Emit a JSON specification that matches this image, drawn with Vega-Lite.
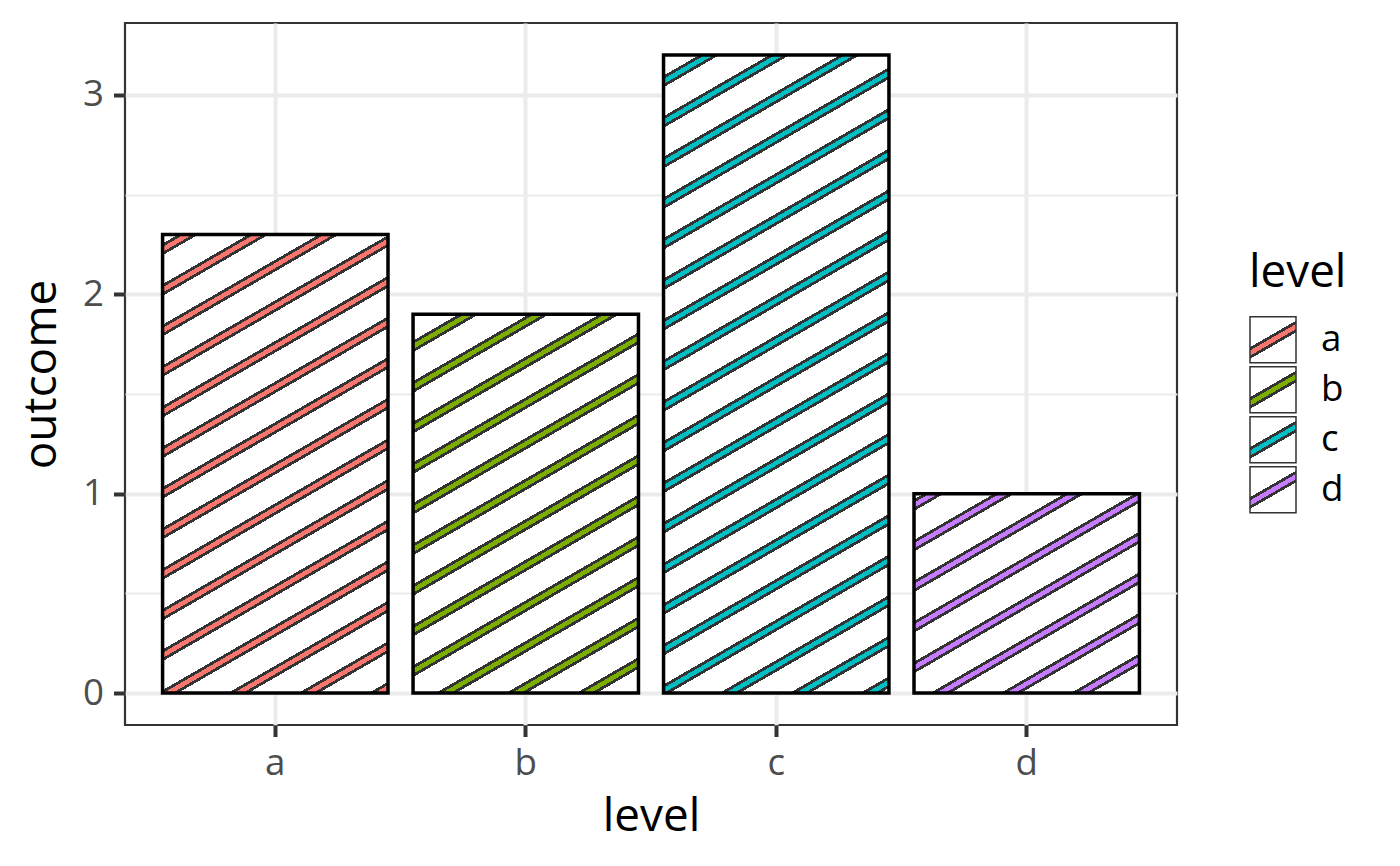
{
  "$schema": "https://vega.github.io/schema/vega-lite/v6.json",
  "width": 1052,
  "height": 702,
  "autosize": {"type": "none"},
  "padding": {"left": 125, "top": 23, "right": 223, "bottom": 141},
  "background": "white",
  "data": {
    "values": [
      {"level": "a", "outcome": 2.3},
      {"level": "b", "outcome": 1.9},
      {"level": "c", "outcome": 3.2},
      {"level": "d", "outcome": 1.0}
    ]
  },
  "encoding": {
    "x": {
      "field": "level",
      "type": "nominal",
      "scale": {"paddingInner": 0.1, "paddingOuter": 0.15},
      "axis": {
        "title": "level",
        "bandPosition": 0.5,
        "domain": false,
        "grid": true,
        "gridColor": "#EBEBEB",
        "gridWidth": 4,
        "tickColor": "#333333",
        "tickWidth": 4,
        "tickSize": 11.5,
        "labelAngle": 0,
        "labelFontSize": 36.7,
        "labelColor": "#4D4D4D",
        "labelPadding": 9,
        "titleFontSize": 45.8,
        "titleFontWeight": "normal",
        "titleColor": "black",
        "titlePadding": 12
      }
    },
    "y": {
      "field": "outcome",
      "type": "quantitative",
      "scale": {"domain": [-0.16, 3.36], "nice": false, "zero": false},
      "axis": {
        "title": "outcome",
        "values": [0, 0.5, 1, 1.5, 2, 2.5, 3],
        "domain": false,
        "grid": true,
        "gridColor": "#EBEBEB",
        "gridWidth": {"condition": {"test": "datum.value % 1 === 0", "value": 4}, "value": 2},
        "tickColor": "#333333",
        "tickWidth": 4,
        "tickSize": 11.5,
        "tickOpacity": {"condition": {"test": "datum.value % 1 === 0", "value": 1}, "value": 0},
        "labelExpr": "datum.value % 1 === 0 ? '' + datum.value : ''",
        "labelFontSize": 36.7,
        "labelColor": "#4D4D4D",
        "labelPadding": 10,
        "titleFontSize": 45.8,
        "titleFontWeight": "normal",
        "titleColor": "black",
        "titlePadding": 17
      }
    }
  },
  "layer": [
    {
      "mark": {"type": "bar"},
      "encoding": {
        "fill": {
          "field": "level",
          "type": "nominal",
          "scale": {
            "range": [
              {"expr": "{gradient: 'linear', x1: 0, y1: 0, x2: 0.683, y2: 1.183, stops: [{offset: 0, color: '#fff'}, {offset: 0.4195, color: '#fff'}, {offset: 0.4195, color: '#333'}, {offset: 0.4642, color: '#333'}, {offset: 0.4642, color: '#F8766D'}, {offset: 0.5358, color: '#F8766D'}, {offset: 0.5358, color: '#333'}, {offset: 0.5805, color: '#333'}, {offset: 0.5805, color: '#fff'}, {offset: 1, color: '#fff'}]}"},
              {"expr": "{gradient: 'linear', x1: 0, y1: 0, x2: 0.683, y2: 1.183, stops: [{offset: 0, color: '#fff'}, {offset: 0.4195, color: '#fff'}, {offset: 0.4195, color: '#333'}, {offset: 0.4642, color: '#333'}, {offset: 0.4642, color: '#7CAE00'}, {offset: 0.5358, color: '#7CAE00'}, {offset: 0.5358, color: '#333'}, {offset: 0.5805, color: '#333'}, {offset: 0.5805, color: '#fff'}, {offset: 1, color: '#fff'}]}"},
              {"expr": "{gradient: 'linear', x1: 0, y1: 0, x2: 0.683, y2: 1.183, stops: [{offset: 0, color: '#fff'}, {offset: 0.4195, color: '#fff'}, {offset: 0.4195, color: '#333'}, {offset: 0.4642, color: '#333'}, {offset: 0.4642, color: '#00BFC4'}, {offset: 0.5358, color: '#00BFC4'}, {offset: 0.5358, color: '#333'}, {offset: 0.5805, color: '#333'}, {offset: 0.5805, color: '#fff'}, {offset: 1, color: '#fff'}]}"},
              {"expr": "{gradient: 'linear', x1: 0, y1: 0, x2: 0.683, y2: 1.183, stops: [{offset: 0, color: '#fff'}, {offset: 0.4195, color: '#fff'}, {offset: 0.4195, color: '#333'}, {offset: 0.4642, color: '#333'}, {offset: 0.4642, color: '#C77CFF'}, {offset: 0.5358, color: '#C77CFF'}, {offset: 0.5358, color: '#333'}, {offset: 0.5805, color: '#333'}, {offset: 0.5805, color: '#fff'}, {offset: 1, color: '#fff'}]}"}
            ]
          },
          "legend": {
            "title": "level",
            "orient": "none",
            "legendX": 1124,
            "legendY": 228,
            "direction": "vertical",
            "padding": 0,
            "titlePadding": 19,
            "titleFontSize": 45.8,
            "titleFontWeight": "normal",
            "titleColor": "black",
            "labelFontSize": 36.7,
            "labelColor": "black",
            "labelOffset": 24,
            "symbolType": "square",
            "symbolSize": 2116,
            "symbolStrokeColor": "#333333",
            "symbolStrokeWidth": 1.5,
            "symbolOpacity": 1,
            "rowPadding": -7.3
          }
        }
      }
    },
    {
      "transform": [{"filter": "datum.level === 'a'"}],
      "mark": {
        "type": "bar",
        "stroke": "black",
        "strokeWidth": 3.5,
        "fill": {"gradient": "linear", "x1": -0.003028, "y1": -0.01067, "x2": 0.461876, "y2": 1.62764, "stops": [
          {"offset": 0, "color": "#fff"},
          {"offset": 0.0178, "color": "#fff"}, {"offset": 0.0178, "color": "#333"}, {"offset": 0.0218, "color": "#333"}, {"offset": 0.0218, "color": "#F8766D"}, {"offset": 0.0282, "color": "#F8766D"}, {"offset": 0.0282, "color": "#333"}, {"offset": 0.0322, "color": "#333"}, {"offset": 0.0322, "color": "#fff"},
          {"offset": 0.0678, "color": "#fff"}, {"offset": 0.0678, "color": "#333"}, {"offset": 0.0718, "color": "#333"}, {"offset": 0.0718, "color": "#F8766D"}, {"offset": 0.0782, "color": "#F8766D"}, {"offset": 0.0782, "color": "#333"}, {"offset": 0.0822, "color": "#333"}, {"offset": 0.0822, "color": "#fff"},
          {"offset": 0.1178, "color": "#fff"}, {"offset": 0.1178, "color": "#333"}, {"offset": 0.1218, "color": "#333"}, {"offset": 0.1218, "color": "#F8766D"}, {"offset": 0.1282, "color": "#F8766D"}, {"offset": 0.1282, "color": "#333"}, {"offset": 0.1322, "color": "#333"}, {"offset": 0.1322, "color": "#fff"},
          {"offset": 0.1678, "color": "#fff"}, {"offset": 0.1678, "color": "#333"}, {"offset": 0.1718, "color": "#333"}, {"offset": 0.1718, "color": "#F8766D"}, {"offset": 0.1782, "color": "#F8766D"}, {"offset": 0.1782, "color": "#333"}, {"offset": 0.1822, "color": "#333"}, {"offset": 0.1822, "color": "#fff"},
          {"offset": 0.2178, "color": "#fff"}, {"offset": 0.2178, "color": "#333"}, {"offset": 0.2218, "color": "#333"}, {"offset": 0.2218, "color": "#F8766D"}, {"offset": 0.2282, "color": "#F8766D"}, {"offset": 0.2282, "color": "#333"}, {"offset": 0.2322, "color": "#333"}, {"offset": 0.2322, "color": "#fff"},
          {"offset": 0.2678, "color": "#fff"}, {"offset": 0.2678, "color": "#333"}, {"offset": 0.2718, "color": "#333"}, {"offset": 0.2718, "color": "#F8766D"}, {"offset": 0.2782, "color": "#F8766D"}, {"offset": 0.2782, "color": "#333"}, {"offset": 0.2822, "color": "#333"}, {"offset": 0.2822, "color": "#fff"},
          {"offset": 0.3178, "color": "#fff"}, {"offset": 0.3178, "color": "#333"}, {"offset": 0.3218, "color": "#333"}, {"offset": 0.3218, "color": "#F8766D"}, {"offset": 0.3282, "color": "#F8766D"}, {"offset": 0.3282, "color": "#333"}, {"offset": 0.3322, "color": "#333"}, {"offset": 0.3322, "color": "#fff"},
          {"offset": 0.3678, "color": "#fff"}, {"offset": 0.3678, "color": "#333"}, {"offset": 0.3718, "color": "#333"}, {"offset": 0.3718, "color": "#F8766D"}, {"offset": 0.3782, "color": "#F8766D"}, {"offset": 0.3782, "color": "#333"}, {"offset": 0.3822, "color": "#333"}, {"offset": 0.3822, "color": "#fff"},
          {"offset": 0.4178, "color": "#fff"}, {"offset": 0.4178, "color": "#333"}, {"offset": 0.4218, "color": "#333"}, {"offset": 0.4218, "color": "#F8766D"}, {"offset": 0.4282, "color": "#F8766D"}, {"offset": 0.4282, "color": "#333"}, {"offset": 0.4322, "color": "#333"}, {"offset": 0.4322, "color": "#fff"},
          {"offset": 0.4678, "color": "#fff"}, {"offset": 0.4678, "color": "#333"}, {"offset": 0.4718, "color": "#333"}, {"offset": 0.4718, "color": "#F8766D"}, {"offset": 0.4782, "color": "#F8766D"}, {"offset": 0.4782, "color": "#333"}, {"offset": 0.4822, "color": "#333"}, {"offset": 0.4822, "color": "#fff"},
          {"offset": 0.5178, "color": "#fff"}, {"offset": 0.5178, "color": "#333"}, {"offset": 0.5218, "color": "#333"}, {"offset": 0.5218, "color": "#F8766D"}, {"offset": 0.5282, "color": "#F8766D"}, {"offset": 0.5282, "color": "#333"}, {"offset": 0.5322, "color": "#333"}, {"offset": 0.5322, "color": "#fff"},
          {"offset": 0.5678, "color": "#fff"}, {"offset": 0.5678, "color": "#333"}, {"offset": 0.5718, "color": "#333"}, {"offset": 0.5718, "color": "#F8766D"}, {"offset": 0.5782, "color": "#F8766D"}, {"offset": 0.5782, "color": "#333"}, {"offset": 0.5822, "color": "#333"}, {"offset": 0.5822, "color": "#fff"},
          {"offset": 0.6178, "color": "#fff"}, {"offset": 0.6178, "color": "#333"}, {"offset": 0.6218, "color": "#333"}, {"offset": 0.6218, "color": "#F8766D"}, {"offset": 0.6282, "color": "#F8766D"}, {"offset": 0.6282, "color": "#333"}, {"offset": 0.6322, "color": "#333"}, {"offset": 0.6322, "color": "#fff"},
          {"offset": 0.6678, "color": "#fff"}, {"offset": 0.6678, "color": "#333"}, {"offset": 0.6718, "color": "#333"}, {"offset": 0.6718, "color": "#F8766D"}, {"offset": 0.6782, "color": "#F8766D"}, {"offset": 0.6782, "color": "#333"}, {"offset": 0.6822, "color": "#333"}, {"offset": 0.6822, "color": "#fff"},
          {"offset": 0.7178, "color": "#fff"}, {"offset": 0.7178, "color": "#333"}, {"offset": 0.7218, "color": "#333"}, {"offset": 0.7218, "color": "#F8766D"}, {"offset": 0.7282, "color": "#F8766D"}, {"offset": 0.7282, "color": "#333"}, {"offset": 0.7322, "color": "#333"}, {"offset": 0.7322, "color": "#fff"},
          {"offset": 1, "color": "#fff"}
        ]}
      }
    },
    {
      "transform": [{"filter": "datum.level === 'b'"}],
      "mark": {
        "type": "bar",
        "stroke": "black",
        "strokeWidth": 3.5,
        "fill": {"gradient": "linear", "x1": -0.023165, "y1": -0.067433, "x2": 0.635256, "y2": 1.849258, "stops": [
          {"offset": 0, "color": "#fff"},
          {"offset": 0.0678, "color": "#fff"}, {"offset": 0.0678, "color": "#333"}, {"offset": 0.0718, "color": "#333"}, {"offset": 0.0718, "color": "#7CAE00"}, {"offset": 0.0782, "color": "#7CAE00"}, {"offset": 0.0782, "color": "#333"}, {"offset": 0.0822, "color": "#333"}, {"offset": 0.0822, "color": "#fff"},
          {"offset": 0.1178, "color": "#fff"}, {"offset": 0.1178, "color": "#333"}, {"offset": 0.1218, "color": "#333"}, {"offset": 0.1218, "color": "#7CAE00"}, {"offset": 0.1282, "color": "#7CAE00"}, {"offset": 0.1282, "color": "#333"}, {"offset": 0.1322, "color": "#333"}, {"offset": 0.1322, "color": "#fff"},
          {"offset": 0.1678, "color": "#fff"}, {"offset": 0.1678, "color": "#333"}, {"offset": 0.1718, "color": "#333"}, {"offset": 0.1718, "color": "#7CAE00"}, {"offset": 0.1782, "color": "#7CAE00"}, {"offset": 0.1782, "color": "#333"}, {"offset": 0.1822, "color": "#333"}, {"offset": 0.1822, "color": "#fff"},
          {"offset": 0.2178, "color": "#fff"}, {"offset": 0.2178, "color": "#333"}, {"offset": 0.2218, "color": "#333"}, {"offset": 0.2218, "color": "#7CAE00"}, {"offset": 0.2282, "color": "#7CAE00"}, {"offset": 0.2282, "color": "#333"}, {"offset": 0.2322, "color": "#333"}, {"offset": 0.2322, "color": "#fff"},
          {"offset": 0.2678, "color": "#fff"}, {"offset": 0.2678, "color": "#333"}, {"offset": 0.2718, "color": "#333"}, {"offset": 0.2718, "color": "#7CAE00"}, {"offset": 0.2782, "color": "#7CAE00"}, {"offset": 0.2782, "color": "#333"}, {"offset": 0.2822, "color": "#333"}, {"offset": 0.2822, "color": "#fff"},
          {"offset": 0.3178, "color": "#fff"}, {"offset": 0.3178, "color": "#333"}, {"offset": 0.3218, "color": "#333"}, {"offset": 0.3218, "color": "#7CAE00"}, {"offset": 0.3282, "color": "#7CAE00"}, {"offset": 0.3282, "color": "#333"}, {"offset": 0.3322, "color": "#333"}, {"offset": 0.3322, "color": "#fff"},
          {"offset": 0.3678, "color": "#fff"}, {"offset": 0.3678, "color": "#333"}, {"offset": 0.3718, "color": "#333"}, {"offset": 0.3718, "color": "#7CAE00"}, {"offset": 0.3782, "color": "#7CAE00"}, {"offset": 0.3782, "color": "#333"}, {"offset": 0.3822, "color": "#333"}, {"offset": 0.3822, "color": "#fff"},
          {"offset": 0.4178, "color": "#fff"}, {"offset": 0.4178, "color": "#333"}, {"offset": 0.4218, "color": "#333"}, {"offset": 0.4218, "color": "#7CAE00"}, {"offset": 0.4282, "color": "#7CAE00"}, {"offset": 0.4282, "color": "#333"}, {"offset": 0.4322, "color": "#333"}, {"offset": 0.4322, "color": "#fff"},
          {"offset": 0.4678, "color": "#fff"}, {"offset": 0.4678, "color": "#333"}, {"offset": 0.4718, "color": "#333"}, {"offset": 0.4718, "color": "#7CAE00"}, {"offset": 0.4782, "color": "#7CAE00"}, {"offset": 0.4782, "color": "#333"}, {"offset": 0.4822, "color": "#333"}, {"offset": 0.4822, "color": "#fff"},
          {"offset": 0.5178, "color": "#fff"}, {"offset": 0.5178, "color": "#333"}, {"offset": 0.5218, "color": "#333"}, {"offset": 0.5218, "color": "#7CAE00"}, {"offset": 0.5282, "color": "#7CAE00"}, {"offset": 0.5282, "color": "#333"}, {"offset": 0.5322, "color": "#333"}, {"offset": 0.5322, "color": "#fff"},
          {"offset": 0.5678, "color": "#fff"}, {"offset": 0.5678, "color": "#333"}, {"offset": 0.5718, "color": "#333"}, {"offset": 0.5718, "color": "#7CAE00"}, {"offset": 0.5782, "color": "#7CAE00"}, {"offset": 0.5782, "color": "#333"}, {"offset": 0.5822, "color": "#333"}, {"offset": 0.5822, "color": "#fff"},
          {"offset": 0.6178, "color": "#fff"}, {"offset": 0.6178, "color": "#333"}, {"offset": 0.6218, "color": "#333"}, {"offset": 0.6218, "color": "#7CAE00"}, {"offset": 0.6282, "color": "#7CAE00"}, {"offset": 0.6282, "color": "#333"}, {"offset": 0.6322, "color": "#333"}, {"offset": 0.6322, "color": "#fff"},
          {"offset": 1, "color": "#fff"}
        ]}
      }
    },
    {
      "transform": [{"filter": "datum.level === 'c'"}],
      "mark": {
        "type": "bar",
        "stroke": "black",
        "strokeWidth": 3.5,
        "fill": {"gradient": "linear", "x1": -0.010537, "y1": -0.051661, "x2": 0.238607, "y2": 1.169867, "stops": [
          {"offset": 0, "color": "#fff"},
          {"offset": 0.0678, "color": "#fff"}, {"offset": 0.0678, "color": "#333"}, {"offset": 0.0718, "color": "#333"}, {"offset": 0.0718, "color": "#00BFC4"}, {"offset": 0.0782, "color": "#00BFC4"}, {"offset": 0.0782, "color": "#333"}, {"offset": 0.0822, "color": "#333"}, {"offset": 0.0822, "color": "#fff"},
          {"offset": 0.1178, "color": "#fff"}, {"offset": 0.1178, "color": "#333"}, {"offset": 0.1218, "color": "#333"}, {"offset": 0.1218, "color": "#00BFC4"}, {"offset": 0.1282, "color": "#00BFC4"}, {"offset": 0.1282, "color": "#333"}, {"offset": 0.1322, "color": "#333"}, {"offset": 0.1322, "color": "#fff"},
          {"offset": 0.1678, "color": "#fff"}, {"offset": 0.1678, "color": "#333"}, {"offset": 0.1718, "color": "#333"}, {"offset": 0.1718, "color": "#00BFC4"}, {"offset": 0.1782, "color": "#00BFC4"}, {"offset": 0.1782, "color": "#333"}, {"offset": 0.1822, "color": "#333"}, {"offset": 0.1822, "color": "#fff"},
          {"offset": 0.2178, "color": "#fff"}, {"offset": 0.2178, "color": "#333"}, {"offset": 0.2218, "color": "#333"}, {"offset": 0.2218, "color": "#00BFC4"}, {"offset": 0.2282, "color": "#00BFC4"}, {"offset": 0.2282, "color": "#333"}, {"offset": 0.2322, "color": "#333"}, {"offset": 0.2322, "color": "#fff"},
          {"offset": 0.2678, "color": "#fff"}, {"offset": 0.2678, "color": "#333"}, {"offset": 0.2718, "color": "#333"}, {"offset": 0.2718, "color": "#00BFC4"}, {"offset": 0.2782, "color": "#00BFC4"}, {"offset": 0.2782, "color": "#333"}, {"offset": 0.2822, "color": "#333"}, {"offset": 0.2822, "color": "#fff"},
          {"offset": 0.3178, "color": "#fff"}, {"offset": 0.3178, "color": "#333"}, {"offset": 0.3218, "color": "#333"}, {"offset": 0.3218, "color": "#00BFC4"}, {"offset": 0.3282, "color": "#00BFC4"}, {"offset": 0.3282, "color": "#333"}, {"offset": 0.3322, "color": "#333"}, {"offset": 0.3322, "color": "#fff"},
          {"offset": 0.3678, "color": "#fff"}, {"offset": 0.3678, "color": "#333"}, {"offset": 0.3718, "color": "#333"}, {"offset": 0.3718, "color": "#00BFC4"}, {"offset": 0.3782, "color": "#00BFC4"}, {"offset": 0.3782, "color": "#333"}, {"offset": 0.3822, "color": "#333"}, {"offset": 0.3822, "color": "#fff"},
          {"offset": 0.4178, "color": "#fff"}, {"offset": 0.4178, "color": "#333"}, {"offset": 0.4218, "color": "#333"}, {"offset": 0.4218, "color": "#00BFC4"}, {"offset": 0.4282, "color": "#00BFC4"}, {"offset": 0.4282, "color": "#333"}, {"offset": 0.4322, "color": "#333"}, {"offset": 0.4322, "color": "#fff"},
          {"offset": 0.4678, "color": "#fff"}, {"offset": 0.4678, "color": "#333"}, {"offset": 0.4718, "color": "#333"}, {"offset": 0.4718, "color": "#00BFC4"}, {"offset": 0.4782, "color": "#00BFC4"}, {"offset": 0.4782, "color": "#333"}, {"offset": 0.4822, "color": "#333"}, {"offset": 0.4822, "color": "#fff"},
          {"offset": 0.5178, "color": "#fff"}, {"offset": 0.5178, "color": "#333"}, {"offset": 0.5218, "color": "#333"}, {"offset": 0.5218, "color": "#00BFC4"}, {"offset": 0.5282, "color": "#00BFC4"}, {"offset": 0.5282, "color": "#333"}, {"offset": 0.5322, "color": "#333"}, {"offset": 0.5322, "color": "#fff"},
          {"offset": 0.5678, "color": "#fff"}, {"offset": 0.5678, "color": "#333"}, {"offset": 0.5718, "color": "#333"}, {"offset": 0.5718, "color": "#00BFC4"}, {"offset": 0.5782, "color": "#00BFC4"}, {"offset": 0.5782, "color": "#333"}, {"offset": 0.5822, "color": "#333"}, {"offset": 0.5822, "color": "#fff"},
          {"offset": 0.6178, "color": "#fff"}, {"offset": 0.6178, "color": "#333"}, {"offset": 0.6218, "color": "#333"}, {"offset": 0.6218, "color": "#00BFC4"}, {"offset": 0.6282, "color": "#00BFC4"}, {"offset": 0.6282, "color": "#333"}, {"offset": 0.6322, "color": "#333"}, {"offset": 0.6322, "color": "#fff"},
          {"offset": 0.6678, "color": "#fff"}, {"offset": 0.6678, "color": "#333"}, {"offset": 0.6718, "color": "#333"}, {"offset": 0.6718, "color": "#00BFC4"}, {"offset": 0.6782, "color": "#00BFC4"}, {"offset": 0.6782, "color": "#333"}, {"offset": 0.6822, "color": "#333"}, {"offset": 0.6822, "color": "#fff"},
          {"offset": 0.7178, "color": "#fff"}, {"offset": 0.7178, "color": "#333"}, {"offset": 0.7218, "color": "#333"}, {"offset": 0.7218, "color": "#00BFC4"}, {"offset": 0.7282, "color": "#00BFC4"}, {"offset": 0.7282, "color": "#333"}, {"offset": 0.7322, "color": "#333"}, {"offset": 0.7322, "color": "#fff"},
          {"offset": 0.7678, "color": "#fff"}, {"offset": 0.7678, "color": "#333"}, {"offset": 0.7718, "color": "#333"}, {"offset": 0.7718, "color": "#00BFC4"}, {"offset": 0.7782, "color": "#00BFC4"}, {"offset": 0.7782, "color": "#333"}, {"offset": 0.7822, "color": "#333"}, {"offset": 0.7822, "color": "#fff"},
          {"offset": 0.8178, "color": "#fff"}, {"offset": 0.8178, "color": "#333"}, {"offset": 0.8218, "color": "#333"}, {"offset": 0.8218, "color": "#00BFC4"}, {"offset": 0.8282, "color": "#00BFC4"}, {"offset": 0.8282, "color": "#333"}, {"offset": 0.8322, "color": "#333"}, {"offset": 0.8322, "color": "#fff"},
          {"offset": 0.8678, "color": "#fff"}, {"offset": 0.8678, "color": "#333"}, {"offset": 0.8718, "color": "#333"}, {"offset": 0.8718, "color": "#00BFC4"}, {"offset": 0.8782, "color": "#00BFC4"}, {"offset": 0.8782, "color": "#333"}, {"offset": 0.8822, "color": "#333"}, {"offset": 0.8822, "color": "#fff"},
          {"offset": 0.9178, "color": "#fff"}, {"offset": 0.9178, "color": "#333"}, {"offset": 0.9218, "color": "#333"}, {"offset": 0.9218, "color": "#00BFC4"}, {"offset": 0.9282, "color": "#00BFC4"}, {"offset": 0.9282, "color": "#333"}, {"offset": 0.9322, "color": "#333"}, {"offset": 0.9322, "color": "#fff"},
          {"offset": 0.9678, "color": "#fff"}, {"offset": 0.9678, "color": "#333"}, {"offset": 0.9718, "color": "#333"}, {"offset": 0.9718, "color": "#00BFC4"}, {"offset": 0.9782, "color": "#00BFC4"}, {"offset": 0.9782, "color": "#333"}, {"offset": 0.9822, "color": "#333"}, {"offset": 0.9822, "color": "#fff"},
          {"offset": 1, "color": "#fff"}
        ]}
      }
    },
    {
      "transform": [{"filter": "datum.level === 'd'"}],
      "mark": {
        "type": "bar",
        "stroke": "black",
        "strokeWidth": 3.5,
        "fill": {"gradient": "linear", "x1": -0.020088, "y1": -0.030777, "x2": 1.843463, "y2": 2.824441, "stops": [
          {"offset": 0, "color": "#fff"},
          {"offset": 0.0178, "color": "#fff"}, {"offset": 0.0178, "color": "#333"}, {"offset": 0.0218, "color": "#333"}, {"offset": 0.0218, "color": "#C77CFF"}, {"offset": 0.0282, "color": "#C77CFF"}, {"offset": 0.0282, "color": "#333"}, {"offset": 0.0322, "color": "#333"}, {"offset": 0.0322, "color": "#fff"},
          {"offset": 0.0678, "color": "#fff"}, {"offset": 0.0678, "color": "#333"}, {"offset": 0.0718, "color": "#333"}, {"offset": 0.0718, "color": "#C77CFF"}, {"offset": 0.0782, "color": "#C77CFF"}, {"offset": 0.0782, "color": "#333"}, {"offset": 0.0822, "color": "#333"}, {"offset": 0.0822, "color": "#fff"},
          {"offset": 0.1178, "color": "#fff"}, {"offset": 0.1178, "color": "#333"}, {"offset": 0.1218, "color": "#333"}, {"offset": 0.1218, "color": "#C77CFF"}, {"offset": 0.1282, "color": "#C77CFF"}, {"offset": 0.1282, "color": "#333"}, {"offset": 0.1322, "color": "#333"}, {"offset": 0.1322, "color": "#fff"},
          {"offset": 0.1678, "color": "#fff"}, {"offset": 0.1678, "color": "#333"}, {"offset": 0.1718, "color": "#333"}, {"offset": 0.1718, "color": "#C77CFF"}, {"offset": 0.1782, "color": "#C77CFF"}, {"offset": 0.1782, "color": "#333"}, {"offset": 0.1822, "color": "#333"}, {"offset": 0.1822, "color": "#fff"},
          {"offset": 0.2178, "color": "#fff"}, {"offset": 0.2178, "color": "#333"}, {"offset": 0.2218, "color": "#333"}, {"offset": 0.2218, "color": "#C77CFF"}, {"offset": 0.2282, "color": "#C77CFF"}, {"offset": 0.2282, "color": "#333"}, {"offset": 0.2322, "color": "#333"}, {"offset": 0.2322, "color": "#fff"},
          {"offset": 0.2678, "color": "#fff"}, {"offset": 0.2678, "color": "#333"}, {"offset": 0.2718, "color": "#333"}, {"offset": 0.2718, "color": "#C77CFF"}, {"offset": 0.2782, "color": "#C77CFF"}, {"offset": 0.2782, "color": "#333"}, {"offset": 0.2822, "color": "#333"}, {"offset": 0.2822, "color": "#fff"},
          {"offset": 0.3178, "color": "#fff"}, {"offset": 0.3178, "color": "#333"}, {"offset": 0.3218, "color": "#333"}, {"offset": 0.3218, "color": "#C77CFF"}, {"offset": 0.3282, "color": "#C77CFF"}, {"offset": 0.3282, "color": "#333"}, {"offset": 0.3322, "color": "#333"}, {"offset": 0.3322, "color": "#fff"},
          {"offset": 0.3678, "color": "#fff"}, {"offset": 0.3678, "color": "#333"}, {"offset": 0.3718, "color": "#333"}, {"offset": 0.3718, "color": "#C77CFF"}, {"offset": 0.3782, "color": "#C77CFF"}, {"offset": 0.3782, "color": "#333"}, {"offset": 0.3822, "color": "#333"}, {"offset": 0.3822, "color": "#fff"},
          {"offset": 1, "color": "#fff"}
        ]}
      }
    }
  ],
  "config": {
    "font": "Open Sans",
    "view": {"stroke": "#333333", "strokeWidth": 2.2}
  }
}
